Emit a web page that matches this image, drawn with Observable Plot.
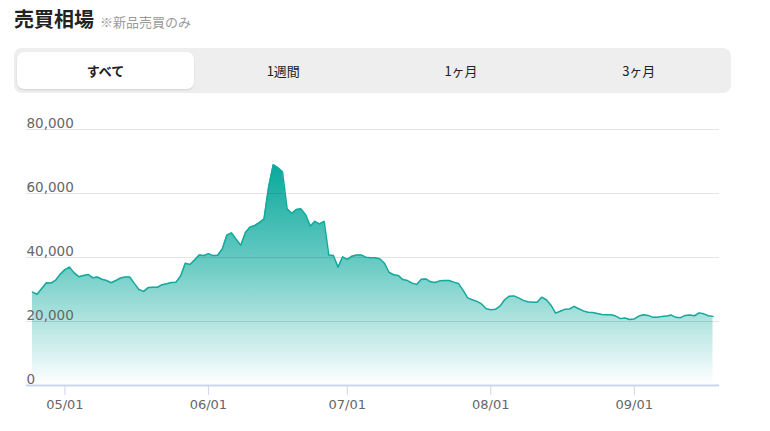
<!DOCTYPE html>
<html lang="ja">
<head>
<meta charset="utf-8">
<script src="https://cdn.jsdelivr.net/npm/d3@7"></script>
<script src="https://cdn.jsdelivr.net/npm/@observablehq/plot@0.6"></script>
<style>
  html, body { margin: 0; padding: 0; background: #fff; }
  body { width: 770px; height: 431px; position: relative; overflow: hidden;
         font-family: "Noto Sans CJK JP", "Noto Sans", sans-serif; }
  #title { position: absolute; left: 14px; top: 6px; font-size: 20px; line-height: 26px;
           font-weight: 700; color: #222; white-space: nowrap; }
  #title span { font-size: 13px; font-weight: 400; color: #9a9a9a; margin-left: 6px; }
  #tabs { position: absolute; left: 14px; top: 48px; width: 717px; height: 45px;
          background: #eeeeee; border-radius: 8px; }
  .tab { position: absolute; top: 4px; height: 37px; width: 177px; line-height: 37px;
         text-align: center; font-size: 13px; color: #222; }
  .tab.active { background: #fff; border-radius: 7px; font-weight: 700;
                box-shadow: 0 1px 2px rgba(0,0,0,0.12); }
  #chart { position: absolute; left: 0; top: 100px; }
</style>
</head>
<body>
<div id="title">売買相場<span>※新品売買のみ</span></div>
<div id="tabs"></div>
<div id="chart"></div>
<script>
// ---- data (yen) ----
const tabLabels = ["すべて", "1週間", "1ヶ月", "3ヶ月"];
const year = 2023;
const aprilDays = [24, 25, 26, 27, 28, 29, 30];
const aprilValues = [29200, 28500, 30300, 32100, 32000, 32900, 34800];
const mayValues = [36200, 37000, 35200, 34000, 34400, 34700, 33700, 33900, 33200, 32800,
  32100, 32800, 33600, 33900, 33900, 31900, 30000, 29400, 30600, 30700,
  30700, 31500, 31800, 32200, 32300, 34200, 38200, 37800, 39200, 40800, 40600];
const juneValues = [41200, 40600, 40700, 42700, 47000, 47700, 45700, 43800, 47800, 49500,
  50000, 50900, 52000, 62000, 69000, 68100, 66800, 55200, 53800, 55000,
  55200, 53400, 49800, 51300, 50500, 51300, 40800, 40600, 37000, 40200];
const julyValues = [39400, 40400, 40800, 40800, 40100, 39900, 39900, 39600, 38300, 35400,
  34600, 34400, 33100, 32800, 32000, 31600, 33200, 33300, 32400, 32200,
  32700, 32800, 32800, 32300, 31900, 29800, 27400, 26800, 26300, 25500, 24000];
const augustValues = [23700, 23800, 24800, 26800, 27900, 28000, 27400, 26600, 26200, 26000,
  26000, 27600, 26800, 25100, 22600, 23200, 23800, 23900, 24700, 24000,
  23300, 22900, 22800, 22500, 22200, 22100, 22100, 21700, 20900, 21100, 20600];
const septemberValues = [20800, 21700, 22100, 21900, 21300, 21300, 21600, 21700, 22000, 21300,
  21200, 21900, 22000, 21800, 22700, 22400, 21800, 21600];
const yTicks = [0, 20000, 40000, 60000, 80000];
const xTicks = ["2023-05-01", "2023-06-01", "2023-07-01", "2023-08-01", "2023-09-01"];

// ---- build table ----
const data = [];
aprilValues.forEach((v, i) => data.push({date: new Date(year, 3, aprilDays[i]), price: v}));
[[4, mayValues], [5, juneValues], [6, julyValues], [7, augustValues], [8, septemberValues]]
  .forEach(([m, arr]) => arr.forEach((v, i) => data.push({date: new Date(year, m, i + 1), price: v})));
const xTickDates = xTicks.map(s => { const [y, m, d] = s.split("-").map(Number); return new Date(y, m - 1, d); });

// ---- tabs ----
const tabs = document.getElementById("tabs");
tabLabels.forEach((t, i) => {
  const el = document.createElement("div");
  el.className = "tab" + (i === 0 ? " active" : "");
  el.style.left = (3 + i * 177.75) + "px";
  el.textContent = t;
  tabs.appendChild(el);
});

// ---- gradient ----
function gradientDefs() {
  const defs = d3.create("svg:defs");
  const g = defs.append("linearGradient").attr("id", "areaGrad")
    .attr("x1", 0).attr("y1", 0).attr("x2", 0).attr("y2", 1);
  g.append("stop").attr("offset", "0%").attr("stop-color", "#08a89b");
  g.append("stop").attr("offset", "45%").attr("stop-color", "#6acbc4");
  g.append("stop").attr("offset", "100%").attr("stop-color", "#ffffff");
  return defs.node();
}

const fmt = d3.format(",");
const chart = Plot.plot({
  width: 770,
  height: 331,
  marginLeft: 26,
  marginRight: 51,
  marginTop: 29,
  marginBottom: 46,
  style: {fontFamily: "'DejaVu Sans', Verdana, sans-serif", background: "transparent", overflow: "visible"},
  x: {type: "time", insetLeft: 6, insetRight: 6.5},
  y: {domain: [0, 80000]},
  marks: [
    gradientDefs,
    Plot.areaY(data, {x: "date", y: "price", fill: "url(#areaGrad)"}),
    Plot.gridY(yTicks.filter(d => d > 0), {stroke: "#000", strokeOpacity: 0.1, strokeWidth: 1}),
    Plot.lineY(data, {x: "date", y: "price", stroke: "#14a99d", strokeWidth: 1.5}),
    Plot.ruleY([0], {stroke: "#ccd6eb", strokeWidth: 2}),
    Plot.axisY(yTicks, {anchor: "left", tickSize: 0, tickPadding: 0, textAnchor: "start",
      lineAnchor: "bottom", dy: -2, tickFormat: fmt, fill: "#666", fontSize: 13.5, label: null}),
    Plot.axisX(xTickDates, {anchor: "bottom", tickSize: 10, tickPadding: 4, stroke: "#ccd6eb",
      strokeOpacity: 1, tickFormat: d3.timeFormat("%m/%d"), fill: "#666", fontSize: 13, label: null})
  ]
});
document.getElementById("chart").appendChild(chart);
</script>
</body>
</html>
